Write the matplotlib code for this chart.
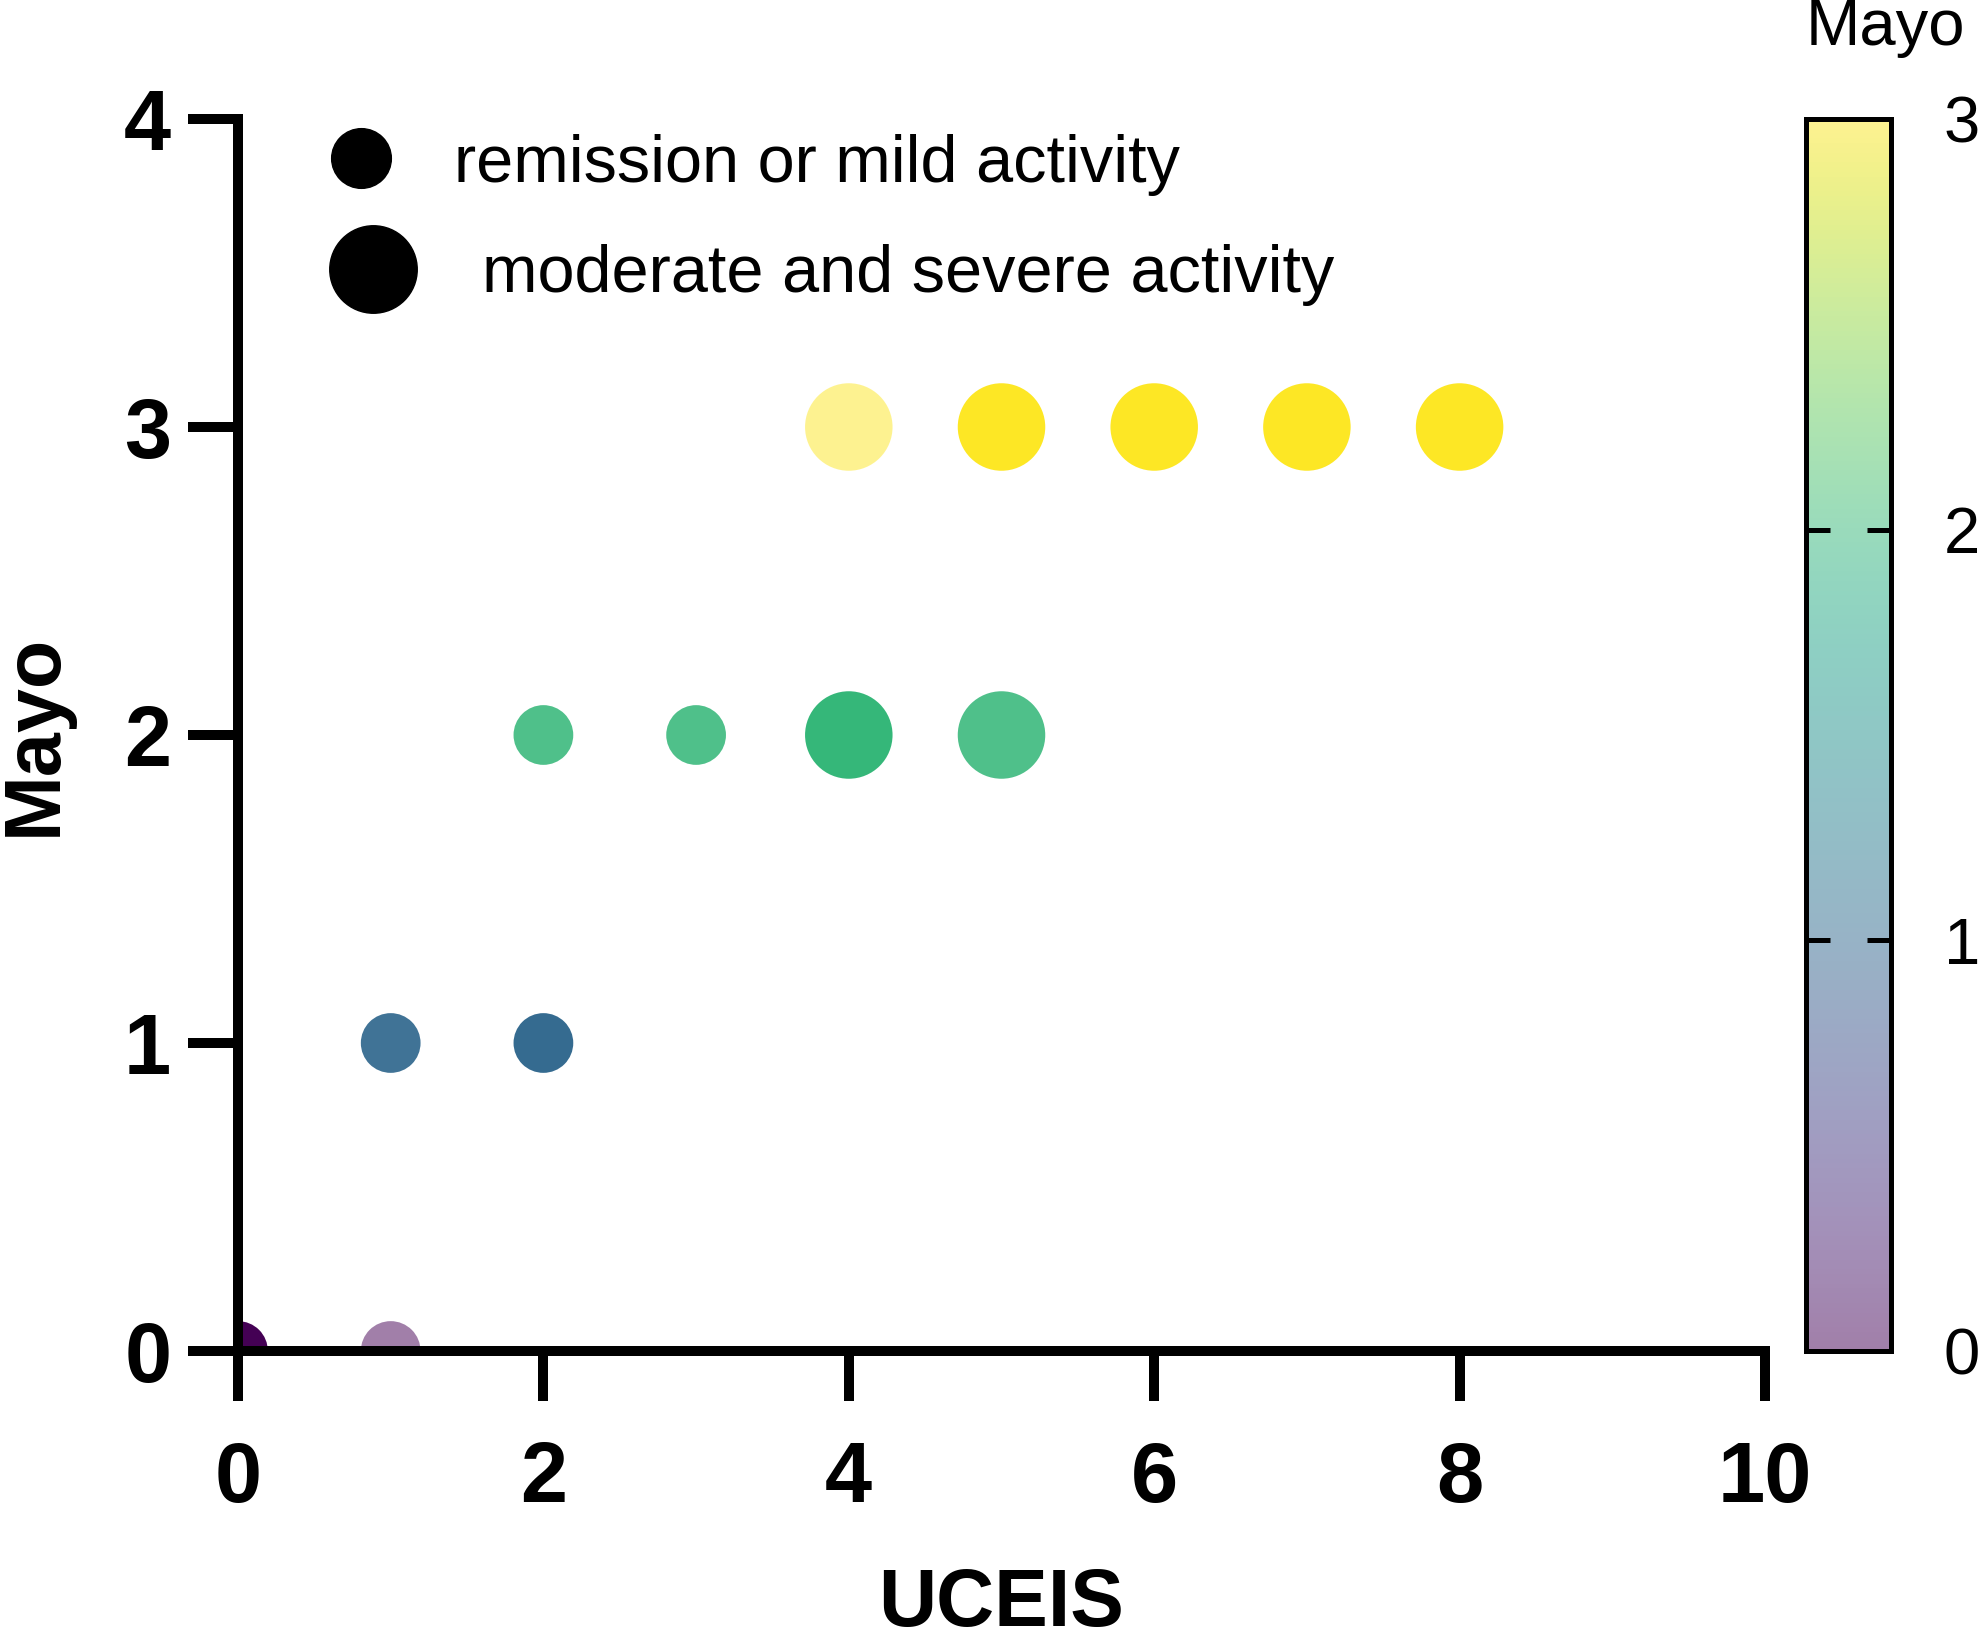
import matplotlib
matplotlib.use("Agg")
import matplotlib.pyplot as plt
import numpy as np
from matplotlib.lines import Line2D
from matplotlib.cm import ScalarMappable
from matplotlib.colors import Normalize

plt.rcParams['font.family'] = ['Liberation Sans', 'DejaVu Sans']

# data
uceis = [0, 1, 1, 2, 2, 3, 4, 5, 4, 5, 6, 7, 8]
mayo = [0, 0, 1, 1, 2, 2, 2, 2, 3, 3, 3, 3, 3]
severe = [0, 0, 0, 0, 0, 0, 1, 1, 1, 1, 1, 1, 1]  # 0 = remission/mild, 1 = moderate/severe
opacity = [1.0, 0.5, 0.93, 0.98, 0.87, 0.87, 1.0, 0.87, 0.51, 1.0, 1.0, 1.0, 1.0]
legend_labels = ["remission or mild activity", "moderate and severe activity"]
x_ticks = [0, 2, 4, 6, 8, 10]
y_ticks = [0, 1, 2, 3, 4]
cbar_ticks = [0, 1, 2, 3]

W, H = 1983, 1642
fig = plt.figure(figsize=(W / 100, H / 100), dpi=100)

ax_l, ax_r, ax_t, ax_b = 238, 1765, 119, 1351
ax = fig.add_axes([ax_l / W, 1 - ax_b / H, (ax_r - ax_l) / W, (ax_b - ax_t) / H])

size_pt = {0: 43, 1: 63}
sizes = [size_pt[s] ** 2 for s in severe]
cmap = plt.get_cmap('viridis')
norm = Normalize(vmin=0, vmax=3)
ax.scatter(uceis, mayo, s=sizes, c=mayo, cmap=cmap, norm=norm, alpha=opacity,
           linewidths=0, zorder=2)

ax.set_xlim(0, 10)
ax.set_ylim(0, 4)
ax.set_xticks(x_ticks)
ax.set_yticks(y_ticks)
for sp in ['top', 'right']:
    ax.spines[sp].set_visible(False)
for sp in ['left', 'bottom']:
    ax.spines[sp].set_linewidth(7.2)
    ax.spines[sp].set_zorder(3)
ax.tick_params(axis='both', direction='out', length=36, width=7.2, labelsize=61)
ax.tick_params(axis='y', pad=12)
ax.tick_params(axis='x', pad=28)
for lab in ax.get_xticklabels() + ax.get_yticklabels():
    lab.set_fontweight('bold')

ax.set_xlabel("UCEIS", fontsize=58, fontweight='bold', labelpad=34)
ax.set_ylabel("Mayo", fontsize=57, fontweight='bold', labelpad=37)

# legend: two rows placed separately
leg_pos = [(0.0367, 0.963, 0.40), (0.0445, 0.873, 0.64)]
legs = []
for k, (lx, ly, pad) in enumerate(leg_pos):
    h = Line2D([], [], marker='o', linestyle='', color='black', markersize=size_pt[k])
    lg = ax.legend([h], [legend_labels[k]], loc='center left', bbox_to_anchor=(lx, ly),
                   frameon=False, fontsize=48, handlelength=2.0, handletextpad=pad,
                   borderpad=0, borderaxespad=0)
    legs.append(lg)
ax.add_artist(legs[0])

# colorbar
cb_l, cb_r = 1806, 1891
cax = fig.add_axes([cb_l / W, 1 - ax_b / H, (cb_r - cb_l) / W, (ax_b - ax_t) / H])
sm = ScalarMappable(norm=norm, cmap=cmap)
cb = fig.colorbar(sm, cax=cax, ticks=cbar_ticks, alpha=0.5)
cb.outline.set_linewidth(3.6)
cax.tick_params(direction='in', left=True, right=True, labelleft=False, labelright=True,
                length=17, width=3.6, labelsize=47, pad=38)
fig.text(1885 / W, 1 - 28 / H, "Mayo", fontsize=47, ha='center', va='center')

fig.savefig("out.png", dpi=100)
